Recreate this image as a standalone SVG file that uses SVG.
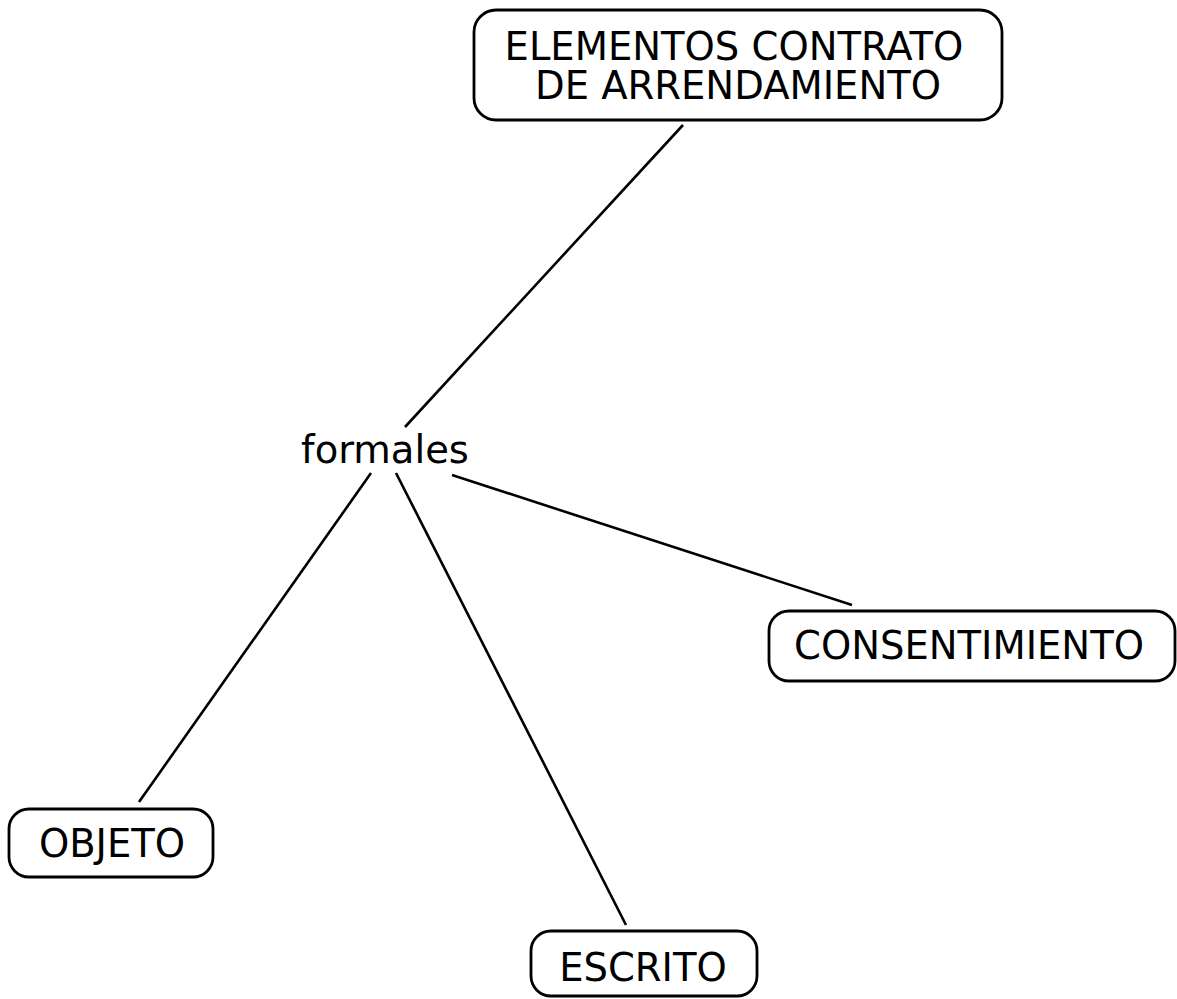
<svg xmlns="http://www.w3.org/2000/svg" width="1177" height="999" viewBox="0 0 1177 999">
<style>
.box{fill:#fff;stroke:#000;stroke-width:2.8}
.t{font-family:"DejaVu Sans",Verdana,sans-serif;font-size:38.5px;fill:#000;text-anchor:middle}
.c{stroke:#000;stroke-width:2.6;fill:none}
</style>
<rect width="1177" height="999" fill="#fff"/>
<g id="connectors">
<line class="c" x1="683" y1="125" x2="405" y2="427"/>
<line class="c" x1="371" y1="473" x2="139" y2="802"/>
<line class="c" x1="396" y1="473" x2="626" y2="925"/>
<line class="c" x1="452" y1="475" x2="852" y2="605"/>
</g>
<g id="n-elementos">
<rect class="box" x="474" y="10" width="528" height="110" rx="22"/>
<text class="t"><tspan x="734" y="60">ELEMENTOS CONTRATO</tspan><tspan x="738" y="99">DE ARRENDAMIENTO</tspan></text>
</g>
<g id="n-formales">
<text class="t" x="385" y="463">formales</text>
</g>
<g id="n-consentimiento">
<rect class="box" x="769" y="611" width="406" height="70" rx="20"/>
<text class="t" x="969" y="659">CONSENTIMIENTO</text>
</g>
<g id="n-objeto">
<rect class="box" x="9" y="809" width="204" height="68" rx="20"/>
<text class="t" x="112" y="857">OBJETO</text>
</g>
<g id="n-escrito">
<rect class="box" x="531" y="931" width="226" height="65" rx="20"/>
<text class="t" x="643" y="981">ESCRITO</text>
</g>
</svg>
